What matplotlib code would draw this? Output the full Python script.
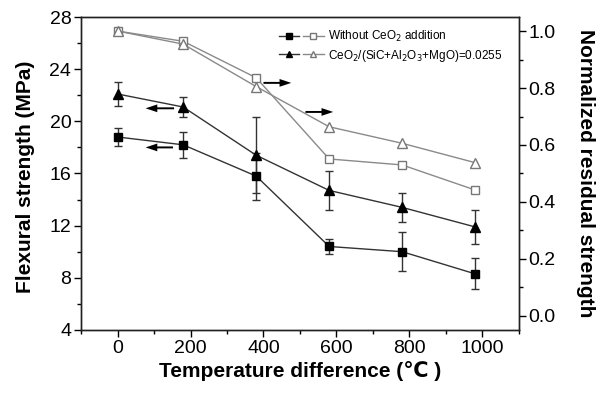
import numpy as np
import matplotlib
matplotlib.use("Agg")
import matplotlib.pyplot as plt
from matplotlib.legend_handler import HandlerTuple
from matplotlib.lines import Line2D
from matplotlib.ticker import MultipleLocator

plt.rcParams['font.family'] = ['Liberation Sans', 'DejaVu Sans']

# === DATA ===
temps = [0, 180, 380, 580, 780, 980]

strength_plain = [18.8, 18.2, 15.8, 10.4, 10.0, 8.3]
err_plain = [0.7, 1.0, 1.8, 0.6, 1.5, 1.2]
strength_ceo2 = [22.1, 21.1, 17.4, 14.7, 13.4, 11.9]
err_ceo2 = [0.9, 0.8, 2.9, 1.5, 1.1, 1.3]

resid_plain = [1.0, 0.964, 0.836, 0.551, 0.530, 0.442]
resid_ceo2 = [1.0, 0.954, 0.805, 0.664, 0.606, 0.538]

label_plain = "Without CeO$_2$ addition"
label_ceo2 = "CeO$_2$/(SiC+Al$_2$O$_3$+MgO)=0.0255"

dark = "#333333"
light = "#8a8a8a"

fig = plt.figure(figsize=(6.02, 3.97), dpi=100)
ax = fig.add_axes([0.1346, 0.169, 0.862 - 0.1346, 0.957 - 0.169])
ax2 = ax.twinx()

# flexural strength (left axis)
ax.errorbar(temps, strength_plain, yerr=err_plain, color=dark, lw=1.0,
            marker='s', ms=6, mfc='black', mec='black', ecolor=dark,
            elinewidth=1.0, capsize=3, capthick=1.0, zorder=3)
ax.errorbar(temps, strength_ceo2, yerr=err_ceo2, color=dark, lw=1.0,
            marker='^', ms=7, mfc='black', mec='black', ecolor=dark,
            elinewidth=1.0, capsize=3, capthick=1.0, zorder=3)

# normalized residual strength (right axis)
ax2.plot(temps, resid_plain, color=light, lw=1.0, marker='s', ms=6,
         mfc='white', mec='#777777', mew=1.0)
ax2.plot(temps, resid_ceo2, color=light, lw=1.0, marker='^', ms=7,
         mfc='white', mec='#777777', mew=1.0)

# arrows pointing at the matching axis
arrow = dict(arrowstyle='simple,head_length=0.6,head_width=0.4,tail_width=0.1',
             fc='black', ec='none', mutation_scale=14, shrinkA=0, shrinkB=0)
ax.annotate('', xy=(77, 21.0), xytext=(155, 21.0), arrowprops=arrow)
ax.annotate('', xy=(77, 18.0), xytext=(152, 18.0), arrowprops=arrow)
ax2.annotate('', xy=(476, 0.818), xytext=(400, 0.818), arrowprops=arrow)
ax2.annotate('', xy=(591, 0.716), xytext=(515, 0.716), arrowprops=arrow)

# axes ranges / ticks
ax.set_xlim(-100, 1100)
ax.set_ylim(4, 28)
ax2.set_ylim(-0.049, 1.049)
ax.set_xticks([0, 200, 400, 600, 800, 1000])
ax.xaxis.set_minor_locator(MultipleLocator(100))
ax.set_yticks([4, 8, 12, 16, 20, 24, 28])
ax.yaxis.set_minor_locator(MultipleLocator(2))
ax2.set_yticks([0.0, 0.2, 0.4, 0.6, 0.8, 1.0])
ax2.yaxis.set_major_formatter(plt.FormatStrFormatter('%.1f'))
ax2.yaxis.set_minor_locator(MultipleLocator(0.1))

for a in (ax, ax2):
    a.tick_params(which='major', direction='out', length=5, width=1.0,
                  labelsize=14, pad=2)
    a.tick_params(which='minor', direction='out', length=3, width=1.0)
    for s in a.spines.values():
        s.set_linewidth(1.0)
        s.set_color('#222222')

ax.set_xlabel('Temperature difference (\u2103 )', fontsize=15,
              fontweight='bold')
ax.xaxis.set_label_coords(0.5, -0.10)
ax.set_ylabel('Flexural strength (MPa)', fontsize=15, fontweight='bold')
ax.yaxis.set_label_coords(-0.105, 0.49)
ax2.set_ylabel('Normalized residual strength', fontsize=15,
               fontweight='bold', rotation=270, va='center')
ax2.yaxis.set_label_coords(1.151, 0.5)

# legend: filled + open markers share one row
h_plain = (Line2D([], [], color=dark, lw=1.0, marker='s', ms=4, mfc='black', mec='black'),
           Line2D([], [], color=light, lw=1.0, marker='s', ms=4, mfc='white', mec='#777777'))
h_ceo2 = (Line2D([], [], color=dark, lw=1.0, marker='^', ms=5, mfc='black', mec='black'),
          Line2D([], [], color=light, lw=1.0, marker='^', ms=5, mfc='white', mec='#777777'))
ax2.legend([h_plain, h_ceo2], [label_plain, label_ceo2],
           handler_map={tuple: HandlerTuple(ndivide=None, pad=0.3)},
           loc='upper right', bbox_to_anchor=(0.99, 1.0), frameon=False,
           fontsize=8.5, handlelength=3.8, handletextpad=0.4, labelspacing=0.3,
           borderaxespad=0.6)

fig.savefig('out.png', dpi=100)
